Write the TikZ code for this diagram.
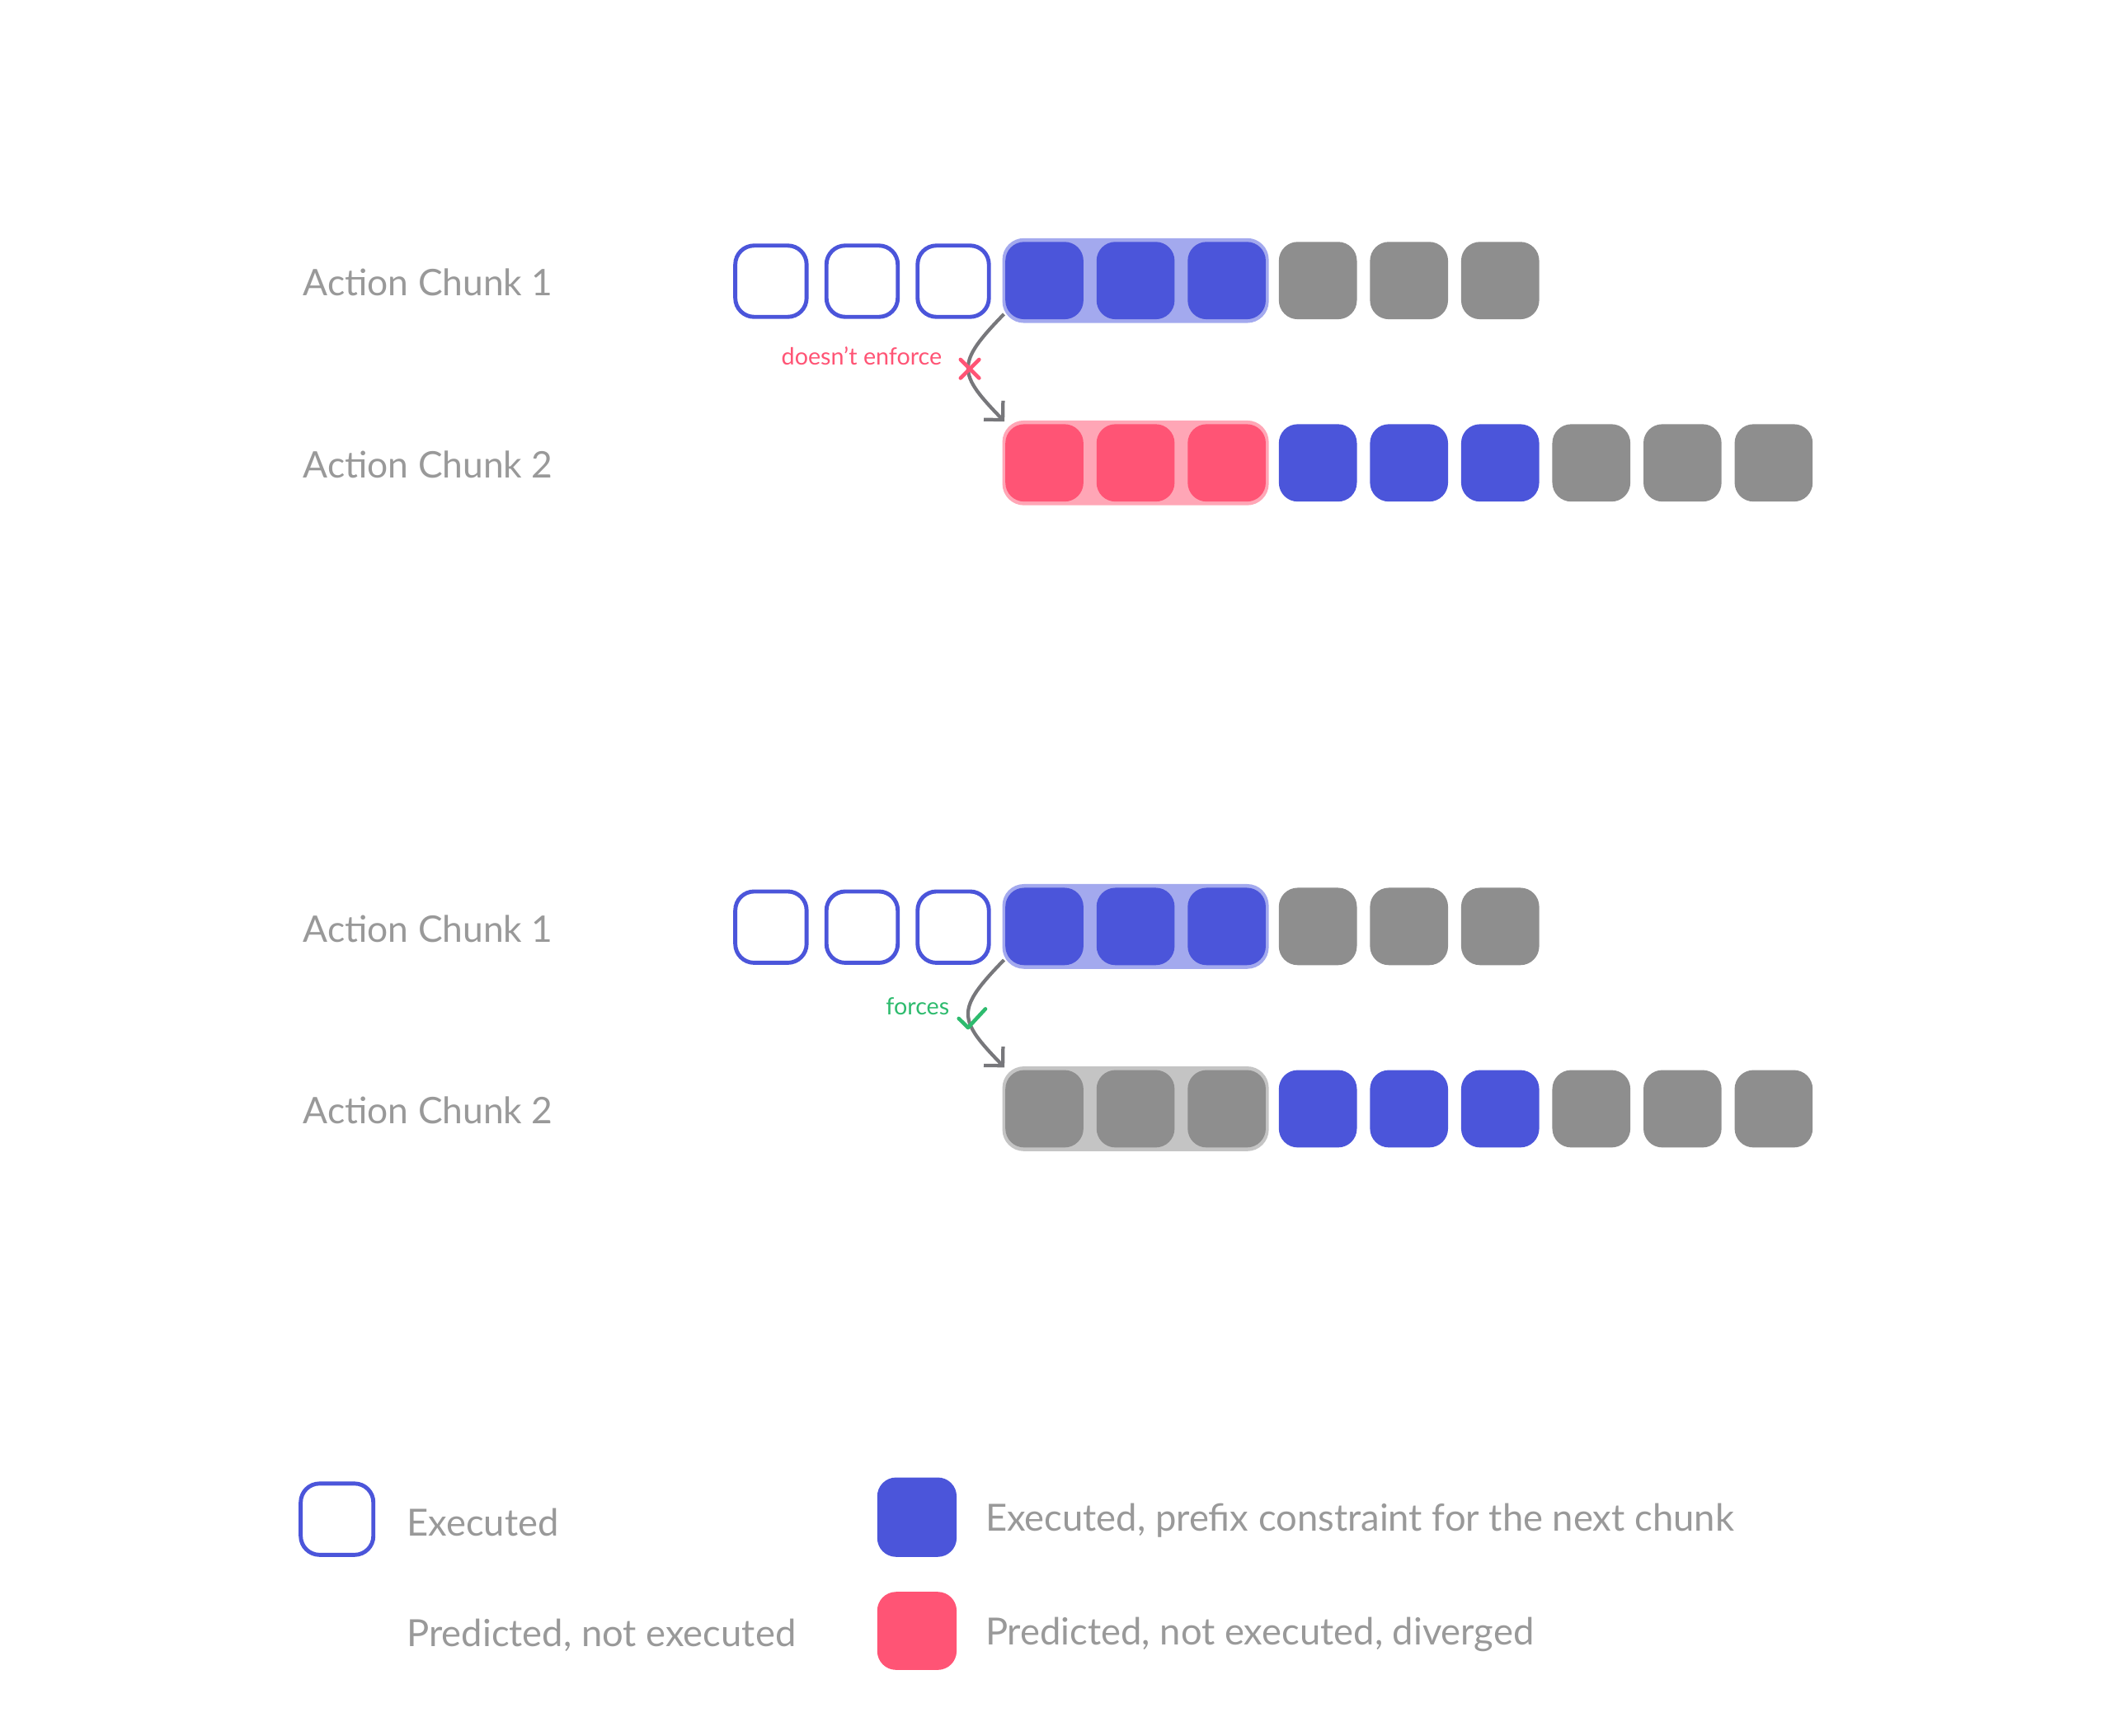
\documentclass[tikz,border=0pt]{standalone}
\usepackage{fontspec}
\setmainfont{Lato}
\usetikzlibrary{arrows.meta}
\definecolor{cblue}{HTML}{4B55DA}
\definecolor{cbluel}{HTML}{A3A9EE}
\definecolor{cred}{HTML}{FF5475}
\definecolor{credl}{HTML}{FFA6B6}
\definecolor{cgray}{HTML}{8E8E8E}
\definecolor{cgrayl}{HTML}{C4C4C4}
\definecolor{ctext}{HTML}{999999}
\definecolor{carrow}{HTML}{77777B}
\definecolor{cgreen}{HTML}{2EBB6E}
\begin{document}
\begin{tikzpicture}[x=0.5pt,y=-0.5pt,
  cell/.style={rectangle, rounded corners=7pt, minimum width=29pt, minimum height=28.75pt, inner sep=0pt},
  execbox/.style={cell, draw=cblue, line width=1.5pt, minimum width=26.5pt, minimum height=26.5pt, fill=white},
  prefbox/.style={cell, fill=cblue},
  predbox/.style={cell, fill=cgray},
  divbox/.style={cell, fill=cred},
  grp/.style={rectangle, rounded corners=8pt, minimum width=99pt, minimum height=31.5pt, inner sep=0pt},
  lbl/.style={anchor=base west, text=ctext, font=\fontsize{13.6}{16}\selectfont, inner sep=0pt},
  leglbl/.style={lbl, font=\fontsize{13.9}{16}\selectfont},
  small/.style={anchor=base east, font=\fontsize{8.8}{10}\selectfont, inner sep=0pt},
  conn/.style={draw=carrow, line width=1.3pt, -{Straight Barb[length=5pt,width=10pt,line width=1.3pt]}},
  symstroke/.style={line width=1.4pt, line cap=round, line join=round},
]
\useasboundingbox (0,0) rectangle (1569,1290);

% ---------- top block ----------
\node[lbl] (l1) at (225,220) {Action Chunk 1};
\node[lbl] (l2) at (225,355) {Action Chunk 2};
\node[grp, fill=cbluel] (g1) at (844,208.5) {};
\node[grp, fill=credl] (g2) at (844,344) {};
\foreach \i in {0,1,2} \node[execbox] (a\i) at ({573+67.75*\i},209) {};
\foreach \i in {3,4,5} \node[prefbox] (a\i) at ({573+67.75*\i},208.5) {};
\foreach \i in {6,7,8} \node[predbox] (a\i) at ({573+67.75*\i},208.5) {};
\foreach \i in {3,4,5} \node[divbox] (b\i) at ({573+67.75*\i},344) {};
\foreach \i in {6,7,8} \node[prefbox] (b\i) at ({573+67.75*\i},344) {};
\foreach \i in {9,10,11} \node[predbox] (b\i) at ({573+67.75*\i},344) {};
\draw[conn] ([xshift=0.8pt,yshift=3.5pt]g1.south west) .. controls +(-36,37) and +(-35,-36) .. ([xshift=1pt,yshift=-0.6pt]g2.north west);
\draw[symstroke, cred] (713.9,267.2) -- (727.7,281) (713.9,281) -- (727.7,267.2);
\node[small, text=cred] (t1) at (700.5,271.3) {doesn’t enforce};

% ---------- bottom block ----------
\node[lbl] (l3) at (225,700) {Action Chunk 1};
\node[lbl] (l4) at (225,835) {Action Chunk 2};
\node[grp, fill=cbluel] (g3) at (844,688.5) {};
\node[grp, fill=cgrayl] (g4) at (844,824) {};
\foreach \i in {0,1,2} \node[execbox] (c\i) at ({573+67.75*\i},689) {};
\foreach \i in {3,4,5} \node[prefbox] (c\i) at ({573+67.75*\i},688.5) {};
\foreach \i in {6,7,8} \node[predbox] (c\i) at ({573+67.75*\i},688.5) {};
\foreach \i in {3,4,5} \node[predbox] (d\i) at ({573+67.75*\i},824) {};
\foreach \i in {6,7,8} \node[prefbox] (d\i) at ({573+67.75*\i},824) {};
\foreach \i in {9,10,11} \node[predbox] (d\i) at ({573+67.75*\i},824) {};
\draw[conn] ([xshift=0.8pt,yshift=3.5pt]g3.south west) .. controls +(-36,37) and +(-35,-36) .. ([xshift=1pt,yshift=-0.6pt]g4.north west);
\draw[symstroke, cgreen] (712.6,756.9) -- (719.5,763.7) -- (732.4,749.8);
\node[small, text=cgreen] (t2) at (706,753.9) {forces};

% ---------- legend ----------
\node[execbox, minimum width=27pt, minimum height=26.5pt] (k1) at (250.5,1129) {};
\node[leglbl] (k1t) at (302,1141.4) {Executed};
\node[leglbl] (k2t) at (302,1223.8) {Predicted, not executed};
\node[prefbox, minimum width=29.5pt, minimum height=29.5pt] (k3) at (681.5,1127.5) {};
\node[leglbl] (k3t) at (732,1138) {Executed, prefix constraint for the next chunk};
\node[divbox, minimum width=29.5pt, minimum height=29pt] (k4) at (681.5,1212) {};
\node[leglbl] (k4t) at (732,1222.1) {Predicted, not executed, diverged};
\end{tikzpicture}
\end{document}
